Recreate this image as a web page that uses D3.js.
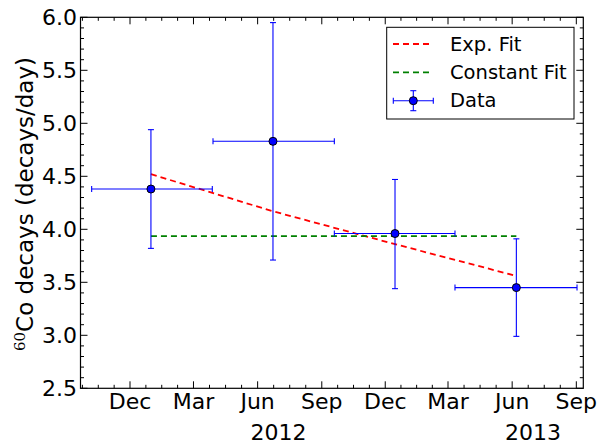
<!DOCTYPE html>
<html lang="en">
<head>
<meta charset="UTF-8"/>
<title>60Co decays</title>
<script src="https://d3js.org/d3.v7.min.js"></script>
<style>
  body { margin: 0; background: #fff; }
  svg { display: block; font-family: "DejaVu Sans", sans-serif; }
  .frame { fill: none; stroke: #000; stroke-width: 1.2; }
  .tick { stroke: #000; stroke-width: 1; }
  .ticklabel { font-size: 22px; fill: #000; }
</style>
</head>
<body>
<svg id="chart" width="601" height="443"></svg>
<script>
// data
const binStart = ["2011-10-07", "2012-03-29", "2012-09-19", "2013-03-11"];
const binMid   = ["2011-12-31", "2012-06-23", "2012-12-15", "2013-06-07"];
const binEnd   = ["2012-03-28", "2012-09-19", "2013-03-11", "2013-09-02"];
const rate     = [4.38, 4.83, 3.96, 3.45];
const rateLow  = [3.82, 3.71, 3.44, 2.99];
const rateHigh = [4.94, 5.95, 4.47, 3.91];

const expFitDates = ["2011-12-31", "2012-06-23", "2012-12-15", "2013-06-07"];
const expFitVals  = [4.52, 4.17, 3.86, 3.56];
const constFitDates = ["2011-12-31", "2013-06-07"];
const constFitVals  = [3.935, 3.935];

const yTicks = [2.5, 3.0, 3.5, 4.0, 4.5, 5.0, 5.5, 6.0];
const yearLabels = [["2012-07-01", "2012"], ["2013-07-01", "2013"]];
const legendItems = ["Exp. Fit", "Constant Fit", "Data"];

const parse = d3.utcParse("%Y-%m-%d");
const svg = d3.select("#chart");
const L = 80.5, R = 583.3, T = 17.3, B = 388.3;

const x = d3.scaleUtc().domain([parse("2011-09-21"), parse("2013-09-11")]).range([L, R]);
const y = d3.scaleLinear().domain([2.5, 6.0]).range([B, T]);

// ticks
const majors = x.ticks(d3.utcMonth.filter(d => d.getUTCMonth() % 3 === 2));
const minors = [];
for (let i = -1; i < majors.length; i++) {
  const a = majors[Math.max(i, 0)], b = majors[Math.min(i + 1, majors.length - 1)];
  const step = i < 0 || i === majors.length - 1
    ? (x(majors[1]) - x(majors[0])) / 4 : (x(b) - x(a)) / 4;
  const base = i < 0 ? x(majors[0]) - 4 * step : x(a);
  for (let k = 1; k < 4; k++) {
    const px = base + k * step;
    if (px > L + 0.5 && px < R - 0.5) minors.push(px);
  }
}
const yMinor = d3.range(25, 61).map(v => v / 10).filter(v => !yTicks.some(t => Math.abs(t - v) < 1e-6));

const g = svg.append("g");
const MAJ = 7, MIN = 3.5;
majors.forEach(d => {
  const px = x(d);
  g.append("line").attr("class", "tick").attr("x1", px).attr("x2", px).attr("y1", B).attr("y2", B - MAJ);
  g.append("line").attr("class", "tick").attr("x1", px).attr("x2", px).attr("y1", T).attr("y2", T + MAJ);
  g.append("text").attr("class", "ticklabel").attr("x", px).attr("y", 409)
    .attr("text-anchor", "middle").text(d3.utcFormat("%b")(d));
});
minors.forEach(px => {
  g.append("line").attr("class", "tick").attr("x1", px).attr("x2", px).attr("y1", B).attr("y2", B - MIN);
  g.append("line").attr("class", "tick").attr("x1", px).attr("x2", px).attr("y1", T).attr("y2", T + MIN);
});
yTicks.forEach(v => {
  const py = y(v);
  g.append("line").attr("class", "tick").attr("x1", L).attr("x2", L + MAJ).attr("y1", py).attr("y2", py);
  g.append("line").attr("class", "tick").attr("x1", R).attr("x2", R - MAJ).attr("y1", py).attr("y2", py);
  g.append("text").attr("class", "ticklabel").attr("x", 77).attr("y", py)
    .attr("text-anchor", "end").attr("dominant-baseline", "central").text(v.toFixed(1));
});
yMinor.forEach(v => {
  const py = y(v);
  g.append("line").attr("class", "tick").attr("x1", L).attr("x2", L + MIN).attr("y1", py).attr("y2", py);
  g.append("line").attr("class", "tick").attr("x1", R).attr("x2", R - MIN).attr("y1", py).attr("y2", py);
});
yearLabels.forEach(([d, t]) => {
  g.append("text").attr("class", "ticklabel").attr("x", x(parse(d))).attr("y", 439.5)
    .attr("text-anchor", "middle").text(t);
});

// y axis label
const yl = svg.append("text").attr("transform", "translate(33,204) rotate(-90)")
  .attr("text-anchor", "middle").attr("font-size", 23);
yl.append("tspan").attr("font-family", "DejaVu Serif, serif").attr("font-size", 15)
  .attr("dy", -8).text("60");
yl.append("tspan").attr("dy", 8).text("Co decays (decays/day)");

// fits
const line = d3.line().x(d => x(parse(d[0]))).y(d => y(d[1]));
svg.append("path").attr("d", line(d3.zip(expFitDates, expFitVals)))
  .attr("fill", "none").attr("stroke", "#ff0000").attr("stroke-width", 1.8).attr("stroke-dasharray", "6,4");
svg.append("path").attr("d", line(d3.zip(constFitDates, constFitVals)))
  .attr("fill", "none").attr("stroke", "#008000").attr("stroke-width", 1.8).attr("stroke-dasharray", "6,4");

// data with error bars
const CAP = 3;
const pts = rate.map((v, i) => ({
  x0: x(parse(binStart[i])), xm: x(parse(binMid[i])), x1: x(parse(binEnd[i])),
  y: y(v), ylo: y(rateLow[i]), yhi: y(rateHigh[i])
}));
const eb = svg.append("g").attr("stroke", "#0000ff").attr("stroke-width", 1.1);
pts.forEach(p => {
  eb.append("line").attr("x1", p.x0).attr("x2", p.x1).attr("y1", p.y).attr("y2", p.y);
  eb.append("line").attr("x1", p.xm).attr("x2", p.xm).attr("y1", p.ylo).attr("y2", p.yhi);
  eb.append("line").attr("x1", p.x0).attr("x2", p.x0).attr("y1", p.y - CAP).attr("y2", p.y + CAP);
  eb.append("line").attr("x1", p.x1).attr("x2", p.x1).attr("y1", p.y - CAP).attr("y2", p.y + CAP);
  eb.append("line").attr("x1", p.xm - CAP).attr("x2", p.xm + CAP).attr("y1", p.ylo).attr("y2", p.ylo);
  eb.append("line").attr("x1", p.xm - CAP).attr("x2", p.xm + CAP).attr("y1", p.yhi).attr("y2", p.yhi);
});
svg.append("g").selectAll("circle").data(pts).join("circle")
  .attr("cx", d => d.xm).attr("cy", d => d.y).attr("r", 4)
  .attr("fill", "#0000ff").attr("stroke", "#000").attr("stroke-width", 1);

// frame
svg.append("rect").attr("class", "frame").attr("x", L).attr("y", T).attr("width", R - L).attr("height", B - T);

// legend
const lg = svg.append("g");
lg.append("rect").attr("x", 386.7).attr("y", 27.3).attr("width", 187.3).attr("height", 91.7)
  .attr("fill", "#fff").attr("stroke", "#000").attr("stroke-width", 1);
const rowY = [44, 72.3, 100.7];
const legColors = ["#ff0000", "#008000"];
legendItems.forEach((t, i) => {
  lg.append("text").attr("x", 450).attr("y", rowY[i]).attr("dominant-baseline", "central")
    .attr("font-size", 19.5).text(t);
  if (i < 2) {
    lg.append("line").attr("x1", 393).attr("x2", 432).attr("y1", rowY[i]).attr("y2", rowY[i])
      .attr("stroke", legColors[i]).attr("stroke-width", 1.8).attr("stroke-dasharray", "6,4");
  } else {
    const cx = 413.3, cy = rowY[i];
    const e = lg.append("g").attr("stroke", "#0000ff").attr("stroke-width", 1.1);
    e.append("line").attr("x1", cx - 20).attr("x2", cx + 20).attr("y1", cy).attr("y2", cy);
    e.append("line").attr("x1", cx).attr("x2", cx).attr("y1", cy - 10).attr("y2", cy + 10);
    e.append("line").attr("x1", cx - 20).attr("x2", cx - 20).attr("y1", cy - CAP).attr("y2", cy + CAP);
    e.append("line").attr("x1", cx + 20).attr("x2", cx + 20).attr("y1", cy - CAP).attr("y2", cy + CAP);
    e.append("line").attr("x1", cx - CAP).attr("x2", cx + CAP).attr("y1", cy - 10).attr("y2", cy - 10);
    e.append("line").attr("x1", cx - CAP).attr("x2", cx + CAP).attr("y1", cy + 10).attr("y2", cy + 10);
    lg.append("circle").attr("cx", cx).attr("cy", cy).attr("r", 4)
      .attr("fill", "#0000ff").attr("stroke", "#000");
  }
});
</script>
</body>
</html>
